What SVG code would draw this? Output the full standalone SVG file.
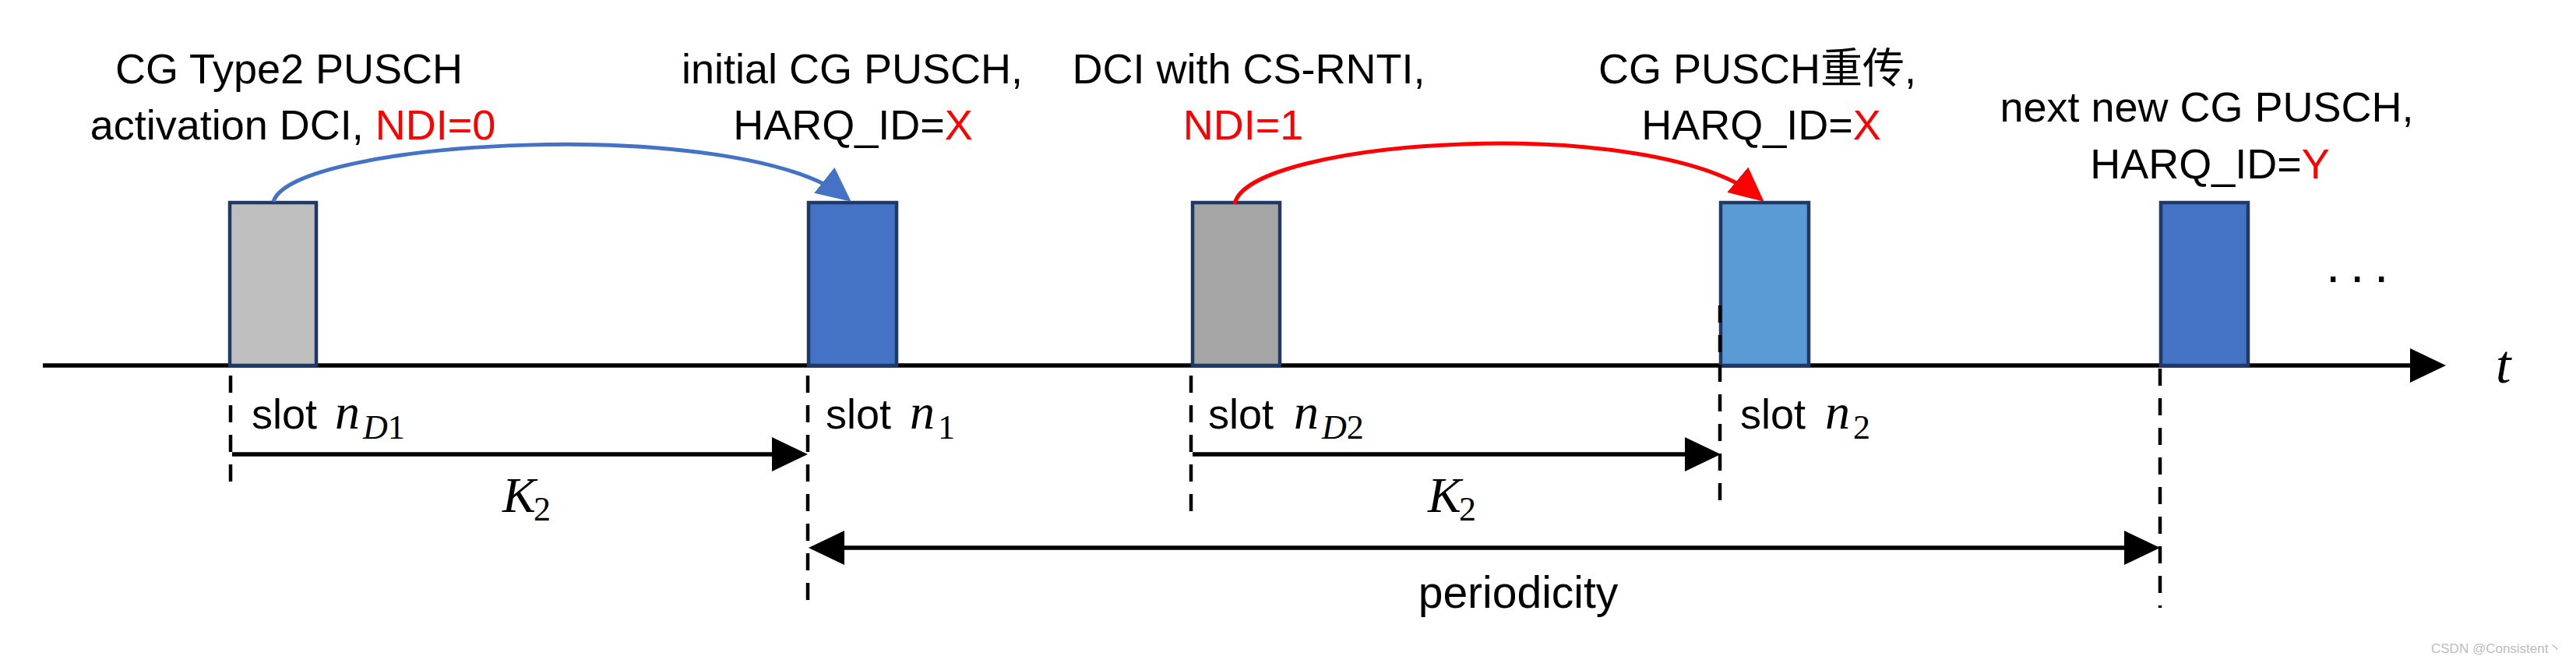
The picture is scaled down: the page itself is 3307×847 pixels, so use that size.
<svg xmlns="http://www.w3.org/2000/svg" width="3307" height="847" viewBox="0 0 3307 847">
<style>
.lbl{font-family:"Liberation Sans","Noto Sans CJK SC",sans-serif;font-size:54px;fill:#000;text-anchor:middle}
.red{fill:#FF0000}
.slot{font-family:"Liberation Sans",sans-serif;font-size:54px;fill:#000}
.math{font-family:"Liberation Serif",serif;font-style:italic;font-size:64px;fill:#000}
.sub{font-size:44px}
.up{font-style:normal}
.box{stroke:#203864;stroke-width:4.5}
.dash{stroke:#000;stroke-width:4.5;stroke-dasharray:22 16;fill:none}
.arr{stroke:#000;stroke-width:5.5;fill:none}
.wm{font-family:"Liberation Sans","Noto Sans CJK SC",sans-serif;font-size:17px;fill:#BDBDBD}
</style>
<defs>
<marker id="ah" markerUnits="userSpaceOnUse" viewBox="0 0 46 44" refX="40" refY="22" markerWidth="46" markerHeight="44" orient="auto-start-reverse"><path d="M0,0 L46,22 L0,44 Z" fill="#000"/></marker>
<marker id="ahBlue" markerUnits="userSpaceOnUse" viewBox="0 0 44 42" refX="38" refY="21" markerWidth="44" markerHeight="42" orient="auto"><path d="M0,0 L44,21 L0,42 Z" fill="#4472C4"/></marker>
<marker id="ahRed" markerUnits="userSpaceOnUse" viewBox="0 0 44 42" refX="38" refY="21" markerWidth="44" markerHeight="42" orient="auto"><path d="M0,0 L44,21 L0,42 Z" fill="#FF0000"/></marker>
</defs>
<rect width="3307" height="847" fill="#fff"/>

<g id="axis">
<line class="arr" x1="55" y1="469" x2="3134" y2="469" marker-end="url(#ah)"/>
<text x="3204" y="491" font-family="Liberation Serif,serif" font-style="italic" font-size="70">t</text>
</g>

<g id="slot-nD1">
<rect class="box" x="295" y="260" width="111" height="209" fill="#BFBFBF"/>
<text class="lbl" x="371" y="107">CG Type2 PUSCH</text>
<text class="lbl" x="376" y="179">activation DCI, <tspan class="red">NDI=0</tspan></text>
<text class="slot" x="323" y="550">slot</text>
<text class="math" x="430" y="550">n<tspan class="sub" x="466" y="563">D</tspan><tspan class="sub up">1</tspan></text>
</g>

<g id="slot-n1">
<rect class="box" x="1038" y="260" width="113" height="209" fill="#4472C4"/>
<text class="lbl" x="1094" y="107">initial CG PUSCH,</text>
<text class="lbl" x="1095" y="179">HARQ_ID=<tspan class="red">X</tspan></text>
<text class="slot" x="1060" y="550">slot</text>
<text class="math" x="1168" y="550">n<tspan class="sub up" x="1204" y="563">1</tspan></text>
</g>

<g id="slot-nD2">
<rect class="box" x="1531" y="260" width="112" height="209" fill="#A5A5A5"/>
<text class="lbl" x="1603" y="107">DCI with CS-RNTI,</text>
<text class="lbl red" x="1596" y="179">NDI=1</text>
<text class="slot" x="1551" y="550">slot</text>
<text class="math" x="1661" y="550">n<tspan class="sub" x="1697" y="563">D</tspan><tspan class="sub up">2</tspan></text>
</g>

<g id="slot-n2">
<rect class="box" x="2209" y="260" width="113" height="209" fill="#5B9BD5"/>
<text class="lbl" x="2256" y="107">CG PUSCH重传,</text>
<text class="lbl" x="2261" y="179">HARQ_ID=<tspan class="red">X</tspan></text>
<text class="slot" x="2234" y="550">slot</text>
<text class="math" x="2343" y="550">n<tspan class="sub up" x="2379" y="563">2</tspan></text>
</g>

<g id="next-pusch">
<rect class="box" x="2774" y="260" width="112" height="209" fill="#4472C4"/>
<text class="lbl" x="2833" y="156">next new CG PUSCH,</text>
<text class="lbl" x="2837" y="229">HARQ_ID=<tspan class="red">Y</tspan></text>
<text x="2986 3017 3048" y="362" font-family="Liberation Sans,sans-serif" font-size="66">...</text>
</g>

<g id="connectors">
<line class="dash" x1="296" y1="482" x2="296" y2="619"/>
<line class="dash" x1="1037" y1="482" x2="1037" y2="775"/>
<line class="dash" x1="1529" y1="482" x2="1529" y2="658"/>
<line class="dash" x1="2208" y1="392" x2="2208" y2="655"/>
<line class="dash" x1="2773" y1="473" x2="2773" y2="780"/>
<line class="arr" x1="298" y1="583" x2="1031" y2="583" marker-end="url(#ah)"/>
<line class="arr" x1="1531" y1="583" x2="2203" y2="583" marker-end="url(#ah)"/>
<line class="arr" x1="1044" y1="703" x2="2767" y2="703" marker-start="url(#ah)" marker-end="url(#ah)"/>
<path d="M351,259 C372,180 950,145 1088,255" fill="none" stroke="#4472C4" stroke-width="5" marker-end="url(#ahBlue)"/>
<path d="M1585,262 C1600,178 2126,143 2260,255" fill="none" stroke="#FF0000" stroke-width="5" marker-end="url(#ahRed)"/>
</g>

<g id="dim-labels">
<text class="math" x="645" y="657">K<tspan class="sub up" x="685" y="668">2</tspan></text>
<text class="math" x="1833" y="657">K<tspan class="sub up" x="1873" y="668">2</tspan></text>
<text class="lbl" x="1949" y="780" style="font-size:57px">periodicity</text>
</g>

<text class="wm" x="3121" y="838">CSDN @Consistent丶</text>
</svg>
